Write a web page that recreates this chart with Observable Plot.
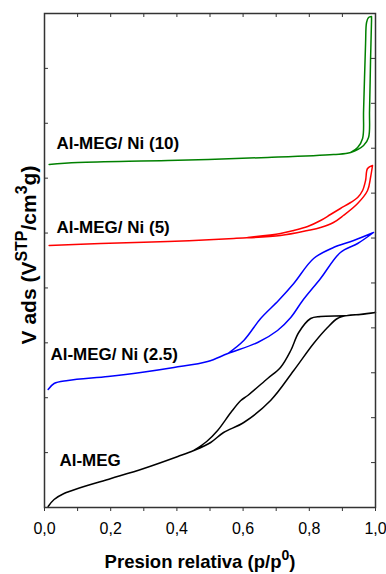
<!DOCTYPE html>
<html>
<head>
<meta charset="utf-8">
<script src="https://cdn.jsdelivr.net/npm/d3@7"></script>
<script src="https://cdn.jsdelivr.net/npm/@observablehq/plot@0.6"></script>
<style>
  html, body { margin: 0; padding: 0; background: white; }
  svg { display: block; }
</style>
</head>
<body>
<div id="chart"></div>
<script>
// Relative pressure p/p0 and adsorbed volume (arbitrary units)
const blackAdsP = [0.011,0.029,0.059,0.110,0.201,0.300,0.403,0.451,0.502,0.541,0.602,0.683,0.753,0.813,0.855,0.885,0.916,0.955,1.0];
const blackAdsV = [1,8,14,20,29,39,51,57,65,75,85,107,137,164,180,189,192,193,195];
const blackDesP = [1.0,0.916,0.834,0.804,0.768,0.744,0.713,0.674,0.614,0.593,0.563,0.523,0.490,0.451];
const blackDesV = [195,192,191,189,175,157,140,129,112,107,95,77,66,57];

const blueAdsP = [0.011,0.029,0.071,0.192,0.291,0.391,0.493,0.554,0.644,0.704,0.744,0.780,0.834,0.894,0.946,0.994];
const blueAdsV = [118,124,127,131,135,140,146,154,165,177,190,207,229,255,264,275];
const blueDesP = [0.994,0.934,0.873,0.813,0.753,0.707,0.653,0.602,0.554];
const blueDesV = [275,267,260,249,224,207,189,167,154];

const redAdsP = [0.014,0.170,0.373,0.572,0.713,0.795,0.834,0.873,0.903,0.946,0.976,0.985,0.991];
const redAdsV = [262,264,266,269,272,277,280,285,292,304,317,330,342];
const redDesP = [0.991,0.976,0.970,0.961,0.946,0.925,0.894,0.864,0.834,0.795,0.753,0.713,0.614];
const redDesV = [342,339,327,317,310,305,299,293,287,281,277,274,270];

const greenAdsP = [0.014,0.101,0.373,0.674,0.873,0.925,0.964,0.979,0.982,0.985,0.988,0.988];
const greenAdsV = [343,345,347,350,353,355,362,370,397,447,487,491];
const greenDesP = [0.988,0.979,0.973,0.970,0.964,0.961,0.946,0.925];
const greenDesV = [491,490,485,464,397,369,360,355];

const seriesNames = ["Al-MEG", "Al-MEG/ Ni (2.5)", "Al-MEG/ Ni (5)", "Al-MEG/ Ni (10)"];
const seriesColors = ["#000000", "#0000ff", "#ff0000", "#008000"];
const labelP = [0.045, 0.018, 0.036, 0.036];
const labelV = [47, 153, 279.5, 363.5];

const xTicks = [0,0.1,0.2,0.3,0.4,0.5,0.6,0.7,0.8,0.9,1.0];
const yMax = 494;
const leftTicks = d3.range(10).map(i => i * yMax / 9);
const rightTicks = d3.range(12).map(i => i * yMax / 11);

function loop(aP, aV, dP, dV) {
  return aP.map((p, i) => ({p, v: aV[i]})).concat(dP.map((p, i) => ({p, v: dV[i]})));
}
const curves = [
  loop(blackAdsP, blackAdsV, blackDesP, blackDesV),
  loop(blueAdsP, blueAdsV, blueDesP, blueDesV),
  loop(redAdsP, redAdsV, redDesP, redDesV),
  loop(greenAdsP, greenAdsV, greenDesP, greenDesV)
];
const labels = seriesNames.map((name, i) => ({name, p: labelP[i], v: labelV[i]}));

const frameColor = "#333";
const font = "'Liberation Sans', Arial, sans-serif";

const chart = Plot.plot({
  width: 386,
  height: 574,
  marginLeft: 44,
  marginRight: 11,
  marginTop: 13,
  marginBottom: 67,
  x: {domain: [0, 1], axis: null},
  y: {domain: [0, yMax], axis: null},
  style: {fontFamily: font, background: "white", color: "black"},
  marks: [
    ...curves.map((c, i) => Plot.line(c, {x: "p", y: "v", stroke: seriesColors[i], strokeWidth: 1.5, curve: "catmull-rom"})),
    Plot.text(labels, {x: "p", y: "v", text: "name", textAnchor: "start", fontSize: 17, fontWeight: "bold", fill: "black"}),
    Plot.frame({stroke: frameColor, strokeWidth: 1.5}),
    Plot.ruleY(leftTicks, {x1: 0, x2: 0.012, stroke: frameColor}),
    Plot.ruleY(rightTicks, {x1: 0.988, x2: 1, stroke: frameColor}),
    Plot.ruleX(xTicks, {y1: yMax, y2: yMax - 4, stroke: frameColor}),
    Plot.axisX(xTicks, {
      anchor: "bottom", tickSize: 4, tickPadding: 11, fontSize: 16, stroke: frameColor,
      tickFormat: d => (Math.round(d * 10) % 2 ? "" : d.toFixed(1).replace(".", ",")),
      label: null
    })
  ]
});

document.getElementById("chart").appendChild(chart);

const svg = d3.select(chart);
// x axis title
const xt = svg.append("text")
  .attr("x", 200).attr("y", 568)
  .attr("text-anchor", "middle")
  .attr("font-family", font)
  .attr("font-weight", "bold").attr("font-size", 18.5).attr("fill", "black");
xt.append("tspan").text("Presion relativa (p/p");
xt.append("tspan").attr("dy", -8).attr("font-size", 14).text("0");
xt.append("tspan").attr("dy", 8).text(")");

// y axis title
const yt = svg.append("text")
  .attr("transform", "translate(36,255) rotate(-90)")
  .attr("text-anchor", "middle")
  .attr("font-family", font)
  .attr("font-weight", "bold").attr("font-size", 21).attr("fill", "black");
yt.append("tspan").text("V ads (V");
yt.append("tspan").attr("dy", -9).attr("font-size", 16).text("STP");
yt.append("tspan").attr("dy", 9).text("/cm");
yt.append("tspan").attr("dy", -9).attr("font-size", 16).text("3");
yt.append("tspan").attr("dy", 9).text("g)");
</script>
</body>
</html>
